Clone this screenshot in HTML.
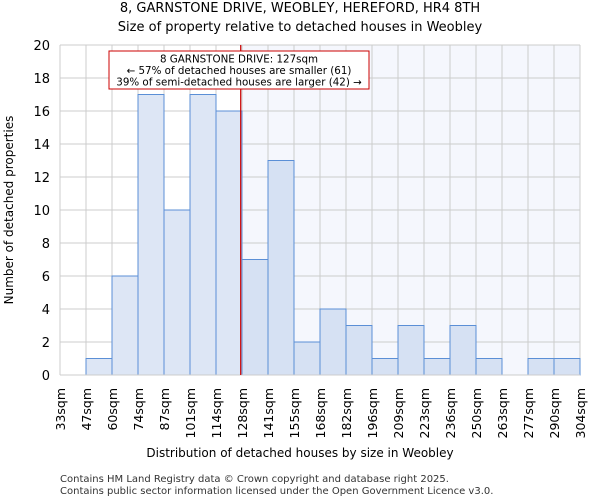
<!DOCTYPE html>
<html><head><meta charset="utf-8"><style>
body{margin:0;background:#fff;font-family:"DejaVu Sans","Liberation Sans",sans-serif}
</style></head><body>
<svg width="600" height="500" xmlns="http://www.w3.org/2000/svg" font-family="DejaVu Sans, Liberation Sans, sans-serif">
<text x="300" y="12" font-size="13" text-anchor="middle">8, GARNSTONE DRIVE, WEOBLEY, HEREFORD, HR4 8TH</text>
<text x="300" y="31" font-size="13" text-anchor="middle">Size of property relative to detached houses in Weobley</text>
<g id="plot"></g>
<text x="300" y="457" font-size="12" text-anchor="middle">Distribution of detached houses by size in Weobley</text>
<text transform="translate(13,210) rotate(-90)" font-size="12" text-anchor="middle">Number of detached properties</text>
<text x="60" y="482" font-size="10" fill="#333">Contains HM Land Registry data © Crown copyright and database right 2025.</text>
<text x="60" y="494" font-size="10" fill="#333">Contains public sector information licensed under the Open Government Licence v3.0.</text>
</svg>
<script>
const categories=["33sqm","47sqm","60sqm","74sqm","87sqm","101sqm","114sqm","128sqm","141sqm","155sqm","168sqm","182sqm","196sqm","209sqm","223sqm","236sqm","250sqm","263sqm","277sqm","290sqm","304sqm"];
const counts=[0,1,6,17,10,17,16,7,13,2,4,3,1,3,1,3,1,0,1,1];
const yTicks=[0,2,4,6,8,10,12,14,16,18,20];
const markerBin=6.95;
const NS="http://www.w3.org/2000/svg";
const g=document.getElementById('plot');
const X0=60,X1=580,Y0=375,Y1=45,YMAX=20;
const bw=(X1-X0)/counts.length;
const xs=i=>X0+i*bw;
const ys=v=>Y0-(v/YMAX)*(Y0-Y1);
function mk(t,a){const e=document.createElementNS(NS,t);for(const k in a)e.setAttribute(k,a[k]);g.appendChild(e);return e;}
const mx=xs(markerBin);
let e=mk('rect',{x:X0,y:Y1,width:X1-X0,height:Y0-Y1,fill:'#fff'});


e=mk('rect',{x:mx,y:Y1,width:X1-mx,height:Y0-Y1,fill:'#f5f7fd'});


yTicks.forEach(v=>{
 let l=mk('line',{x1:X0,x2:X1,y1:ys(v),y2:ys(v),stroke:'#ccc','stroke-width':1});
 
 
 let t=mk('text',{x:X0-10,y:ys(v)+5,'font-size':13,'text-anchor':'end'});t.textContent=v;
 
 
});
categories.forEach((c,i)=>{
 let l=mk('line',{x1:xs(i),x2:xs(i),y1:Y1,y2:Y0,stroke:'#ccc','stroke-width':1});
 
 
 let t=mk('text',{transform:`translate(${xs(i)+5},388) rotate(-90)`,'font-size':12.5,'text-anchor':'end'});t.textContent=c;
 
 
});
counts.forEach((v,i)=>{
 if(v<=0)return;
 let r=mk('rect',{x:xs(i),y:ys(v),width:bw,height:Y0-ys(v),fill:i<7?'#dde6f5':'#d6e1f3',stroke:'#5b8fd6','stroke-width':1});
 
 
});
e=mk('line',{x1:X0,x2:X1,y1:Y0,y2:Y0,stroke:'#ccc'});


e=mk('line',{x1:mx,x2:mx,y1:Y1,y2:Y0,stroke:'#cc0000','stroke-width':1.2});


e=mk('rect',{x:109,y:51,width:260,height:38,fill:'#fff',stroke:'#cc0000','stroke-width':1});


["8 GARNSTONE DRIVE: 127sqm","← 57% of detached houses are smaller (61)","39% of semi-detached houses are larger (42) →"].forEach((s,i)=>{
 let t=mk('text',{x:239,y:62.5+i*11.5,'font-size':10.3,'text-anchor':'middle'});t.textContent=s;
 
 
});
</script>
</body></html>
